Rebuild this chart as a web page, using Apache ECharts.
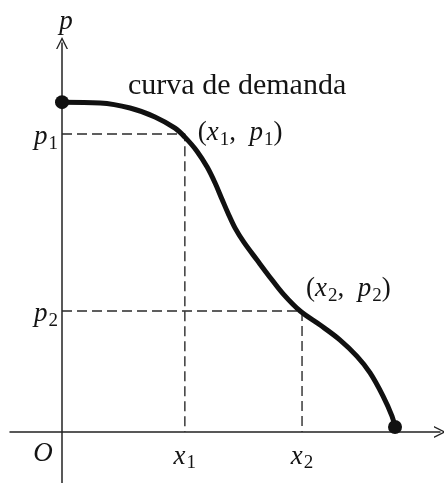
<!DOCTYPE html>
<html><head><meta charset="utf-8">
<script src="https://cdn.jsdelivr.net/npm/echarts@6/dist/echarts.min.js"></script>
<style>html,body{margin:0;padding:0;background:#fff}#c{width:444px;height:483px}</style>
</head><body><div id="c"></div>
<script>
// Demand curve (x = quantity, p = price)
const demandX = [0, 1.01, 1.80, 2.46, 2.99, 3.25, 3.57, 3.84, 4.05, 4.23, 4.39, 4.58, 4.81, 5.16, 5.50, 5.85, 6.30, 6.83, 7.35, 7.80, 8.15, 8.49, 8.73, 8.81];
const demandP = [8.48, 8.46, 8.33, 8.10, 7.81, 7.58, 7.22, 6.81, 6.40, 5.99, 5.63, 5.24, 4.88, 4.42, 3.98, 3.55, 3.11, 2.75, 2.37, 1.95, 1.52, 0.93, 0.41, 0.13];
// Marked points
const pointX = [3.25, 6.35];
const pointP = [7.66, 3.11];
// Tick labels (letter, subscript)
const xTickLabels = [['x', '1'], ['x', '2']];
const yTickLabels = [['p', '1'], ['p', '2']];
const pointLabels = [['x', '1', 'p', '1'], ['x', '2', 'p', '2']];
const curveTitle = 'curva de demanda';
const originLabel = 'O';
const yAxisName = 'p';

const serif = "'Liberation Serif', 'DejaVu Serif', serif";
const ink = '#141414';
const rich = {
  m: { fontFamily: serif, fontStyle: 'italic', fontSize: 27, color: ink },
  s: { fontFamily: serif, fontSize: 19, color: ink, padding: [14, 0, 0, 1] },
  n: { fontFamily: serif, fontSize: 27, color: ink }
};
const demandData = demandX.map((x, i) => [x, demandP[i]]);
const last = demandX.length - 1;

const guideStyle = { type: [10, 5], width: 1.4, color: '#2a2a2a' };
const guides = pointX.map((x, i) => ({
  type: 'line', silent: true, symbol: 'none', z: 1,
  data: [[0, pointP[i]], [x, pointP[i]], [x, 0]],
  lineStyle: guideStyle
}));
const arrowPath = 'path://M0,10 L5,0 L10,10 L8.8,10 L5,2.4 L1.2,10 Z';
const sub = t => '{m|' + t[0] + '}{s|' + t[1] + '}';

const chart = echarts.init(document.getElementById('c'));
chart.setOption({
  animation: false,
  backgroundColor: '#ffffff',
  grid: { left: 10, right: 4, top: 43, bottom: 0, containLabel: false, outerBoundsMode: 'none' },
  xAxis: {
    type: 'value', min: -1.376, max: 10,
    splitLine: { show: false },
    axisTick: { show: false },
    axisLabel: { show: false },
    axisLine: { onZero: true, lineStyle: { color: '#222', width: 1.5 },
      symbol: ['none', arrowPath], symbolSize: [14, 12] }
  },
  yAxis: {
    type: 'value', min: -1.311, max: 10,
    splitLine: { show: false },
    axisTick: { show: false },
    axisLabel: { show: false },
    name: yAxisName, nameLocation: 'end', nameGap: 8,
    nameTextStyle: { fontFamily: serif, fontStyle: 'italic', fontSize: 27, color: ink, align: 'center', padding: [0, 0, 0, 8] },
    axisLine: { onZero: true, lineStyle: { color: '#222', width: 1.5 },
      symbol: ['none', arrowPath], symbolSize: [14, 12] }
  },
  series: guides.concat([
    {
      type: 'line', name: curveTitle, data: demandData, symbol: 'none', z: 3,
      smooth: 0.35,
      lineStyle: { width: 5, color: '#111' }
    },
    {
      type: 'scatter', z: 4, symbolSize: 14, itemStyle: { color: '#111', opacity: 1 },
      data: [demandData[0], demandData[last]]
    },
    {
      type: 'scatter', z: 5, symbolSize: 0, clip: false, silent: true,
      itemStyle: { opacity: 1 },
      label: { show: true, rich: rich, color: ink },
      data: [
        { value: demandData[0], label: { position: 'right', distance: 66, offset: [0, -16],
            formatter: curveTitle, fontFamily: serif, fontSize: 30, color: ink } },
        { value: [0, 0], label: { position: 'inside', offset: [-19, 22],
            formatter: '{m|' + originLabel + '}' } },
        ...pointX.map((x, i) => ({ value: [x, 0], label: { position: 'bottom', distance: 8,
            formatter: sub(xTickLabels[i]) } })),
        ...pointP.map((p, i) => ({ value: [0, p], label: { position: 'left', distance: 4, offset: [0, 3],
            formatter: sub(yTickLabels[i]) } })),
        ...pointX.map((x, i) => {
          const t = pointLabels[i];
          return { value: [x, pointP[i]], label: { position: 'right', distance: i === 0 ? 13 : 4, offset: [0, i === 0 ? -1 : -22],
            formatter: '{n|(}{m|' + t[0] + '}{s|' + t[1] + '}{n|,  }{m|' + t[2] + '}{s|' + t[3] + '}{n|)}' } };
        })
      ]
    }
  ])
});
</script></body></html>
